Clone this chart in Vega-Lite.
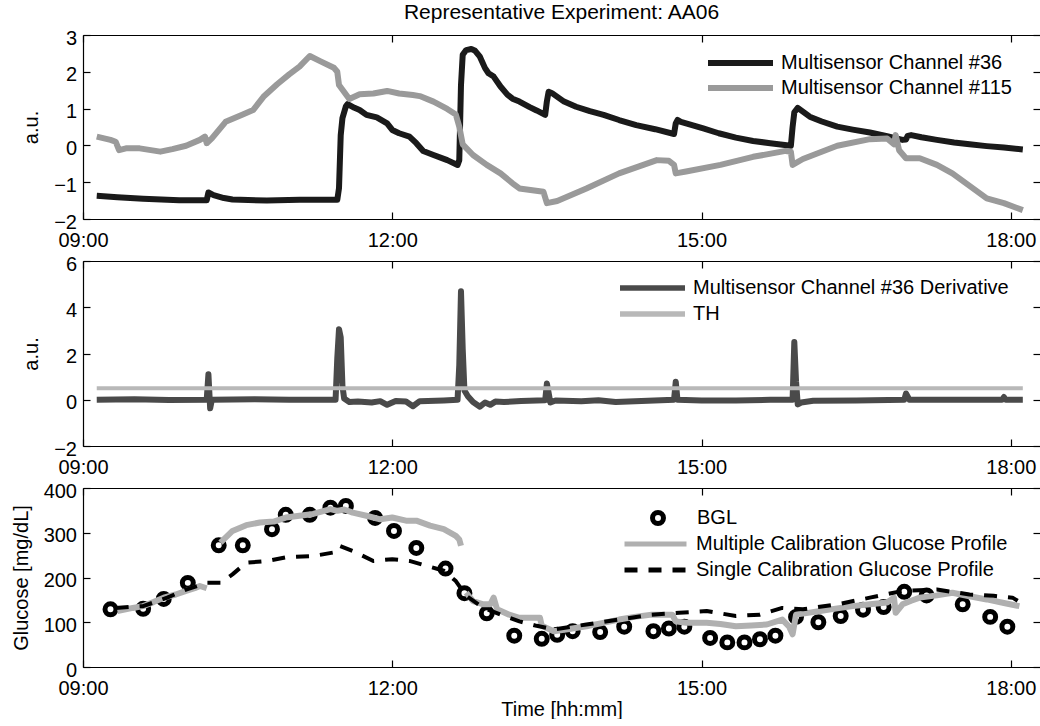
{
  "$schema": "https://vega.github.io/schema/vega-lite/v6.json",
  "background": "white",
  "padding": {"left": 11, "top": 2, "right": 0, "bottom": 0},
  "bounds": "flush",
  "spacing": 42,
  "config": {
    "font": "Liberation Sans",
    "view": {"stroke": null},
    "axis": {
      "labelFont": "Liberation Sans", "labelFontSize": 20, "labelColor": "black",
      "titleFont": "Liberation Sans", "titleFontSize": 20, "titleFontWeight": "normal", "titleColor": "black",
      "domainColor": "black", "domainWidth": 1.2, "tickColor": "black", "tickWidth": 1.2, "tickSize": -7,
      "grid": false, "labelFlush": false, "labelOverlap": false, "titlePadding": 12
    },
    "axisX": {"labelPadding": 18},
    "axisY": {"labelPadding": 13.5, "labelOffset": 3},
    "legend": {
      "title": null, "orient": "none", "padding": 0, "labelFont": "Liberation Sans", "labelFontSize": 20,
      "labelColor": "black", "labelLimit": 600, "symbolType": "stroke", "clipHeight": 20, "rowPadding": 6,
      "symbolFillColor": "transparent"
    },
    "line": {"strokeCap": "butt", "strokeJoin": "round"}
  },
  "resolve": {
    "scale": {"color": "independent", "shape": "independent", "strokeDash": "independent"},
    "legend": {"color": "independent", "shape": "independent", "strokeDash": "independent"}
  },
  "vconcat": [
    {
      "width": 957, "height": 184,
      "title": {"text": "Representative Experiment: AA06", "fontSize": 21, "font": "Liberation Sans", "fontWeight": "normal", "color": "black", "frame": "group", "anchor": "middle", "offset": 5},
      "layer": [
        {
          "data": {"format": {"parse": {"t": "date:'%H:%M'"}}, "values": [
            {"t":"09:08","v":-1.37},{"t":"09:20","v":-1.41},{"t":"09:35","v":-1.45},{"t":"09:56","v":-1.49},{"t":"10:12","v":-1.49},
            {"t":"10:13","v":-1.28},{"t":"10:16","v":-1.35},{"t":"10:22","v":-1.43},{"t":"10:27","v":-1.47},{"t":"10:47","v":-1.5},
            {"t":"11:06","v":-1.48},{"t":"11:28","v":-1.48},{"t":"11:29","v":-1.16},{"t":"11:30","v":0.28},{"t":"11:31","v":0.74},
            {"t":"11:33","v":1.06},{"t":"11:34","v":1.12},{"t":"11:38","v":1.02},{"t":"11:41","v":0.96},{"t":"11:45","v":0.83},
            {"t":"11:51","v":0.76},{"t":"11:57","v":0.6},{"t":"12:00","v":0.42},{"t":"12:04","v":0.33},{"t":"12:10","v":0.24},
            {"t":"12:14","v":0.06},{"t":"12:18","v":-0.15},{"t":"12:24","v":-0.26},{"t":"12:32","v":-0.4},{"t":"12:38","v":-0.53},
            {"t":"12:39","v":-0.4},{"t":"12:40","v":1.64},{"t":"12:41","v":2.46},{"t":"12:43","v":2.59},{"t":"12:46","v":2.62},
            {"t":"12:48","v":2.58},{"t":"12:51","v":2.41},{"t":"12:54","v":2.1},{"t":"12:56","v":1.96},{"t":"12:59","v":1.87},
            {"t":"13:03","v":1.6},{"t":"13:07","v":1.38},{"t":"13:10","v":1.27},{"t":"13:14","v":1.19},{"t":"13:20","v":1.04},
            {"t":"13:24","v":0.95},{"t":"13:29","v":0.83},{"t":"13:30","v":1.2},{"t":"13:31","v":1.46},{"t":"13:33","v":1.42},
            {"t":"13:40","v":1.19},{"t":"13:47","v":1.05},{"t":"13:55","v":0.93},{"t":"14:03","v":0.83},{"t":"14:12","v":0.69},
            {"t":"14:22","v":0.55},{"t":"14:33","v":0.44},{"t":"14:44","v":0.31},{"t":"14:45","v":0.6},{"t":"14:46","v":0.69},
            {"t":"14:48","v":0.64},{"t":"15:01","v":0.46},{"t":"15:10","v":0.33},{"t":"15:20","v":0.21},{"t":"15:30","v":0.12},
            {"t":"15:40","v":0.06},{"t":"15:52","v":-0.01},{"t":"15:53","v":0.5},{"t":"15:54","v":0.9},{"t":"15:56","v":1.02},
            {"t":"15:58","v":0.95},{"t":"16:03","v":0.78},{"t":"16:10","v":0.65},{"t":"16:19","v":0.51},{"t":"16:28","v":0.43},
            {"t":"16:38","v":0.35},{"t":"16:48","v":0.25},{"t":"16:57","v":0.15},{"t":"16:59","v":0.16},{"t":"17:00","v":0.26},
            {"t":"17:02","v":0.28},{"t":"17:08","v":0.22},{"t":"17:17","v":0.15},{"t":"17:27","v":0.08},{"t":"17:36","v":0.03},
            {"t":"17:46","v":-0.02},{"t":"17:56","v":-0.06},{"t":"18:07","v":-0.11}
          ]},
          "mark": {"type": "line", "strokeWidth": 6},
          "encoding": {
            "x": {"field": "t", "type": "temporal",
              "scale": {"domain": [{"year":1900,"month":1,"date":1,"hours":9,"minutes":0},{"year":1900,"month":1,"date":1,"hours":18,"minutes":17}], "nice": false},
              "axis": {"orient": "bottom", "title": null, "format": "%H:%M",
                "values": [{"year":1900,"month":1,"date":1,"hours":9},{"year":1900,"month":1,"date":1,"hours":12},{"year":1900,"month":1,"date":1,"hours":15},{"year":1900,"month":1,"date":1,"hours":18}]}},
            "y": {"field": "v", "type": "quantitative", "scale": {"domain": [-2, 3], "nice": false},
              "axis": {"orient": "left", "title": "a.u.", "values": [-2, -1, 0, 1, 2, 3]}},
            "color": {"datum": "Multisensor Channel #36", "type": "nominal",
              "scale": {"domain": ["Multisensor Channel #36", "Multisensor Channel #115"], "range": ["#1a1a1a", "#9a9a9a"]},
              "legend": {"legendX": 622, "legendY": 18, "symbolSize": 4225, "symbolStrokeWidth": 6, "labelOffset": 5, "rowPadding": 5}}
          }
        },
        {
          "data": {"format": {"parse": {"t": "date:'%H:%M'"}}, "values": [
            {"t":"09:08","v":0.24},{"t":"09:16","v":0.15},{"t":"09:19","v":0.1},{"t":"09:21","v":-0.13},{"t":"09:25","v":-0.08},
            {"t":"09:33","v":-0.08},{"t":"09:45","v":-0.17},{"t":"09:52","v":-0.1},{"t":"10:00","v":-0.01},{"t":"10:08","v":0.15},
            {"t":"10:11","v":0.24},{"t":"10:12","v":0.06},{"t":"10:15","v":0.19},{"t":"10:23","v":0.64},{"t":"10:33","v":0.84},
            {"t":"10:39","v":0.96},{"t":"10:45","v":1.32},{"t":"10:53","v":1.66},{"t":"11:00","v":1.93},{"t":"11:06","v":2.14},
            {"t":"11:12","v":2.43},{"t":"11:18","v":2.29},{"t":"11:26","v":2.11},{"t":"11:28","v":2.0},{"t":"11:29","v":1.64},
            {"t":"11:35","v":1.26},{"t":"11:41","v":1.39},{"t":"11:49","v":1.41},{"t":"11:57","v":1.48},{"t":"12:04","v":1.41},
            {"t":"12:12","v":1.37},{"t":"12:16","v":1.34},{"t":"12:24","v":1.19},{"t":"12:32","v":0.99},{"t":"12:37","v":0.84},
            {"t":"12:39","v":0.51},{"t":"12:41","v":0.03},{"t":"12:47","v":-0.26},{"t":"12:55","v":-0.53},{"t":"13:03","v":-0.76},
            {"t":"13:10","v":-1.03},{"t":"13:14","v":-1.17},{"t":"13:28","v":-1.26},{"t":"13:30","v":-1.57},{"t":"13:36","v":-1.51},
            {"t":"13:53","v":-1.17},{"t":"14:12","v":-0.76},{"t":"14:34","v":-0.4},{"t":"14:41","v":-0.42},{"t":"14:44","v":-0.53},
            {"t":"14:45","v":-0.76},{"t":"14:51","v":-0.71},{"t":"15:11","v":-0.53},{"t":"15:30","v":-0.31},{"t":"15:49","v":-0.15},
            {"t":"15:52","v":-0.17},{"t":"15:53","v":-0.53},{"t":"15:59","v":-0.37},{"t":"16:19","v":-0.01},{"t":"16:38","v":0.17},
            {"t":"16:48","v":0.19},{"t":"16:52","v":0.03},{"t":"16:53","v":0.28},{"t":"16:55","v":-0.13},{"t":"16:59","v":-0.35},
            {"t":"17:07","v":-0.35},{"t":"17:17","v":-0.53},{"t":"17:26","v":-0.76},{"t":"17:46","v":-1.44},{"t":"17:56","v":-1.57},
            {"t":"18:07","v":-1.76}
          ]},
          "mark": {"type": "line", "strokeWidth": 6},
          "encoding": {
            "x": {"field": "t", "type": "temporal",
              "axis": {"orient": "top", "title": null, "labels": false,
                "values": [{"year":1900,"month":1,"date":1,"hours":9},{"year":1900,"month":1,"date":1,"hours":12},{"year":1900,"month":1,"date":1,"hours":15},{"year":1900,"month":1,"date":1,"hours":18}]}},
            "y": {"field": "v", "type": "quantitative",
              "axis": {"orient": "right", "title": null, "labels": false, "domain": false, "values": [-2, -1, 0, 1, 2, 3]}},
            "color": {"datum": "Multisensor Channel #115", "type": "nominal"}
          }
        }
      ]
    },
    {
      "width": 957, "height": 185,
      "layer": [
        {
          "data": {"format": {"parse": {"t": "date:'%H:%M'"}}, "values": [
            {"t":"09:08","v":0},{"t":"09:30","v":0.02},{"t":"09:50","v":-0.01},{"t":"10:12","v":0},{"t":"10:13","v":1.1},
            {"t":"10:14","v":-0.37},{"t":"10:15","v":0},{"t":"10:40","v":0.02},{"t":"11:00","v":0},{"t":"11:27","v":0},
            {"t":"11:28","v":1.8},{"t":"11:29","v":3.05},{"t":"11:30","v":2.7},{"t":"11:31","v":0.6},{"t":"11:32","v":0.05},
            {"t":"11:35","v":-0.1},{"t":"11:40","v":-0.08},{"t":"11:48","v":-0.12},{"t":"11:53","v":-0.06},{"t":"11:57","v":-0.22},
            {"t":"12:02","v":-0.05},{"t":"12:08","v":-0.08},{"t":"12:12","v":-0.28},{"t":"12:16","v":-0.06},{"t":"12:30","v":-0.03},
            {"t":"12:38","v":0},{"t":"12:39","v":1.5},{"t":"12:40","v":4.69},{"t":"12:41","v":2.2},{"t":"12:42","v":0.4},
            {"t":"12:44","v":0.15},{"t":"12:47","v":-0.1},{"t":"12:51","v":-0.3},{"t":"12:54","v":-0.12},{"t":"12:57","v":-0.22},
            {"t":"13:00","v":-0.08},{"t":"13:05","v":-0.1},{"t":"13:15","v":-0.05},{"t":"13:29","v":-0.02},{"t":"13:30","v":0.7},
            {"t":"13:31","v":0.3},{"t":"13:32","v":-0.12},{"t":"13:35","v":-0.03},{"t":"13:50","v":-0.06},{"t":"14:00","v":-0.02},
            {"t":"14:10","v":-0.1},{"t":"14:25","v":-0.05},{"t":"14:44","v":0},{"t":"14:45","v":0.78},{"t":"14:46","v":0},
            {"t":"15:00","v":-0.03},{"t":"15:20","v":-0.03},{"t":"15:40","v":0},{"t":"15:53","v":0},{"t":"15:54","v":2.5},
            {"t":"15:55","v":0.8},{"t":"15:56","v":-0.2},{"t":"15:58","v":-0.12},{"t":"16:05","v":-0.04},{"t":"16:30","v":-0.03},
            {"t":"16:58","v":0},{"t":"16:59","v":0.27},{"t":"17:01","v":0},{"t":"17:30","v":0},{"t":"17:55","v":0},
            {"t":"17:56","v":0.12},{"t":"17:57","v":0},{"t":"18:07","v":0}
          ]},
          "mark": {"type": "line", "strokeWidth": 6},
          "encoding": {
            "x": {"field": "t", "type": "temporal",
              "scale": {"domain": [{"year":1900,"month":1,"date":1,"hours":9,"minutes":0},{"year":1900,"month":1,"date":1,"hours":18,"minutes":17}], "nice": false},
              "axis": {"orient": "bottom", "title": null, "format": "%H:%M",
                "values": [{"year":1900,"month":1,"date":1,"hours":9},{"year":1900,"month":1,"date":1,"hours":12},{"year":1900,"month":1,"date":1,"hours":15},{"year":1900,"month":1,"date":1,"hours":18}]}},
            "y": {"field": "v", "type": "quantitative", "scale": {"domain": [-2, 6], "nice": false},
              "axis": {"orient": "left", "title": "a.u.", "values": [-2, 0, 2, 4, 6]}},
            "color": {"datum": "Multisensor Channel #36 Derivative", "type": "nominal",
              "scale": {"domain": ["Multisensor Channel #36 Derivative", "TH"], "range": ["#4a4a4a", "#b8b8b8"]},
              "legend": {"legendX": 534, "legendY": 17, "symbolSize": 4225, "symbolStrokeWidth": 5.5, "labelOffset": 5}}
          }
        },
        {
          "data": {"format": {"parse": {"t": "date:'%H:%M'"}}, "values": [
            {"t":"09:08","v":0.5},{"t":"18:07","v":0.5}
          ]},
          "mark": {"type": "line", "strokeWidth": 4},
          "encoding": {
            "x": {"field": "t", "type": "temporal",
              "axis": {"orient": "top", "title": null, "labels": false,
                "values": [{"year":1900,"month":1,"date":1,"hours":9},{"year":1900,"month":1,"date":1,"hours":12},{"year":1900,"month":1,"date":1,"hours":15},{"year":1900,"month":1,"date":1,"hours":18}]}},
            "y": {"field": "v", "type": "quantitative",
              "axis": {"orient": "right", "title": null, "labels": false, "domain": false, "values": [-2, 0, 2, 4, 6]}},
            "color": {"datum": "TH", "type": "nominal"}
          }
        }
      ]
    },
    {
      "width": 957, "height": 179,
      "layer": [
        {
          "data": {"format": {"parse": {"t": "date:'%H:%M'"}}, "values": [
            {"t":"09:16","v":129},{"t":"09:35","v":130},{"t":"09:47","v":152},{"t":"10:01","v":188},{"t":"10:19","v":272},
            {"t":"10:33","v":272},{"t":"10:50","v":308},{"t":"10:58","v":340},{"t":"11:12","v":340},{"t":"11:24","v":356},
            {"t":"11:33","v":360},{"t":"11:50","v":333},{"t":"12:01","v":304},{"t":"12:14","v":266},{"t":"12:31","v":220},
            {"t":"12:42","v":165},{"t":"12:55","v":120},{"t":"13:11","v":70},{"t":"13:27","v":63},{"t":"13:36","v":72},
            {"t":"13:45","v":80},{"t":"14:01","v":78},{"t":"14:15","v":90},{"t":"14:32","v":80},{"t":"14:41","v":86},
            {"t":"14:50","v":90},{"t":"15:05","v":65},{"t":"15:15","v":55},{"t":"15:25","v":55},{"t":"15:34","v":62},
            {"t":"15:43","v":70},{"t":"15:55","v":112},{"t":"16:08","v":100},{"t":"16:21","v":114},{"t":"16:34","v":128},
            {"t":"16:46","v":134},{"t":"16:58","v":168},{"t":"17:11","v":160},{"t":"17:32","v":140},{"t":"17:48","v":112},
            {"t":"17:58","v":90}
          ]},
          "mark": {"type": "point", "filled": false, "color": "black", "size": 120, "strokeWidth": 5, "opacity": 1},
          "encoding": {
            "x": {"field": "t", "type": "temporal",
              "scale": {"domain": [{"year":1900,"month":1,"date":1,"hours":9,"minutes":0},{"year":1900,"month":1,"date":1,"hours":18,"minutes":17}], "nice": false},
              "axis": {"orient": "bottom", "title": "Time [hh:mm]", "format": "%H:%M", "titlePadding": 1,
                "values": [{"year":1900,"month":1,"date":1,"hours":9},{"year":1900,"month":1,"date":1,"hours":12},{"year":1900,"month":1,"date":1,"hours":15},{"year":1900,"month":1,"date":1,"hours":18}]}},
            "y": {"field": "v", "type": "quantitative", "scale": {"domain": [0, 400], "nice": false},
              "axis": {"orient": "left", "title": "Glucose [mg/dL]", "values": [0, 100, 200, 300, 400]}},
            "shape": {"datum": "BGL", "type": "nominal",
              "scale": {"domain": ["BGL"], "range": ["circle"]},
              "legend": {"legendX": 565, "legendY": 20, "symbolType": "circle", "symbolSize": 120, "symbolStrokeWidth": 5,
                "symbolStrokeColor": "black", "symbolFillColor": "transparent", "labelOffset": 29}}
          }
        },
        {
          "data": {"format": {"parse": {"t": "date:'%H:%M'"}}, "values": [
            {"t":"09:20","v":125,"seg":1},{"t":"09:29","v":132,"seg":1},{"t":"09:35","v":136,"seg":1},{"t":"09:41","v":145,"seg":1},
            {"t":"09:47","v":155,"seg":1},{"t":"09:54","v":162,"seg":1},{"t":"10:00","v":170,"seg":1},{"t":"10:05","v":176,"seg":1},
            {"t":"10:08","v":181,"seg":1},{"t":"10:12","v":176,"seg":1},
            {"t":"10:20","v":278,"seg":2},{"t":"10:27","v":304,"seg":2},{"t":"10:35","v":317,"seg":2},{"t":"10:43","v":323,"seg":2},
            {"t":"10:51","v":325,"seg":2},{"t":"10:58","v":334,"seg":2},{"t":"11:06","v":338,"seg":2},{"t":"11:14","v":342,"seg":2},
            {"t":"11:24","v":353,"seg":2},{"t":"11:28","v":349,"seg":2},{"t":"11:32","v":352,"seg":2},{"t":"11:37","v":345,"seg":2},
            {"t":"11:45","v":338,"seg":2},{"t":"11:53","v":330,"seg":2},{"t":"12:00","v":334,"seg":2},{"t":"12:08","v":327,"seg":2},
            {"t":"12:14","v":327,"seg":2},{"t":"12:22","v":316,"seg":2},{"t":"12:30","v":308,"seg":2},{"t":"12:37","v":293,"seg":2},
            {"t":"12:39","v":285,"seg":2},{"t":"12:40","v":271,"seg":2},
            {"t":"12:43","v":166,"seg":3},{"t":"12:47","v":147,"seg":3},{"t":"12:53","v":140,"seg":3},{"t":"12:57","v":140,"seg":3},
            {"t":"12:59","v":155,"seg":3},{"t":"13:01","v":129,"seg":3},{"t":"13:08","v":117,"seg":3},{"t":"13:14","v":110,"seg":3},
            {"t":"13:26","v":110,"seg":3},{"t":"13:27","v":92,"seg":3},{"t":"13:34","v":80,"seg":3},{"t":"13:43","v":85,"seg":3},
            {"t":"13:53","v":91,"seg":3},{"t":"14:02","v":98,"seg":3},{"t":"14:12","v":106,"seg":3},{"t":"14:21","v":112,"seg":3},
            {"t":"14:31","v":117,"seg":3},{"t":"14:43","v":117,"seg":3},{"t":"14:45","v":102,"seg":3},{"t":"14:51","v":99,"seg":3},
            {"t":"15:03","v":99,"seg":3},{"t":"15:11","v":96,"seg":3},{"t":"15:20","v":91,"seg":3},{"t":"15:29","v":93,"seg":3},
            {"t":"15:38","v":95,"seg":3},{"t":"15:47","v":106,"seg":3},{"t":"15:51","v":90,"seg":3},{"t":"15:53","v":73,"seg":3},
            {"t":"15:55","v":117,"seg":3},{"t":"16:02","v":121,"seg":3},{"t":"16:09","v":125,"seg":3},{"t":"16:19","v":131,"seg":3},
            {"t":"16:28","v":136,"seg":3},{"t":"16:38","v":140,"seg":3},{"t":"16:48","v":144,"seg":3},{"t":"16:52","v":155,"seg":3},
            {"t":"16:53","v":121,"seg":3},{"t":"16:57","v":140,"seg":3},{"t":"17:02","v":148,"seg":3},{"t":"17:07","v":155,"seg":3},
            {"t":"17:17","v":160,"seg":3},{"t":"17:26","v":166,"seg":3},{"t":"17:36","v":158,"seg":3},{"t":"17:46","v":151,"seg":3},
            {"t":"17:56","v":143,"seg":3},{"t":"18:05","v":136,"seg":3}
          ]},
          "mark": {"type": "line", "strokeWidth": 6},
          "encoding": {
            "x": {"field": "t", "type": "temporal",
              "axis": {"orient": "top", "title": null, "labels": false,
                "values": [{"year":1900,"month":1,"date":1,"hours":9},{"year":1900,"month":1,"date":1,"hours":12},{"year":1900,"month":1,"date":1,"hours":15},{"year":1900,"month":1,"date":1,"hours":18}]}},
            "y": {"field": "v", "type": "quantitative",
              "axis": {"orient": "right", "title": null, "labels": false, "domain": false, "values": [0, 100, 200, 300, 400]}},
            "detail": {"field": "seg", "type": "nominal"},
            "color": {"datum": "Multiple Calibration Glucose Profile", "type": "nominal",
              "scale": {"domain": ["Multiple Calibration Glucose Profile", "Single Calibration Glucose Profile"], "range": ["#b0b0b0", "black"]},
              "legend": {"legendX": 539, "legendY": 46, "symbolSize": 3844, "symbolStrokeWidth": 5, "labelOffset": 7}}
          }
        },
        {
          "data": {"format": {"parse": {"t": "date:'%H:%M'"}}, "values": [
            {"t":"09:19","v":132},{"t":"09:35","v":136},{"t":"09:49","v":155},{"t":"10:00","v":173},{"t":"10:12","v":188},
            {"t":"10:20","v":188},{"t":"10:27","v":207},{"t":"10:35","v":233},{"t":"10:47","v":237},{"t":"10:58","v":245},
            {"t":"11:14","v":248},{"t":"11:26","v":256},{"t":"11:29","v":271},{"t":"11:37","v":259},{"t":"11:49","v":237},
            {"t":"12:00","v":241},{"t":"12:10","v":237},{"t":"12:20","v":226},{"t":"12:30","v":215},{"t":"12:37","v":192},
            {"t":"12:43","v":159},{"t":"12:53","v":132},{"t":"13:03","v":117},{"t":"13:14","v":102},{"t":"13:24","v":92},
            {"t":"13:34","v":84},{"t":"13:53","v":95},{"t":"14:12","v":106},{"t":"14:31","v":117},{"t":"14:47","v":121},
            {"t":"15:03","v":125},{"t":"15:20","v":114},{"t":"15:34","v":117},{"t":"15:47","v":132},{"t":"15:59","v":129},
            {"t":"16:19","v":140},{"t":"16:38","v":155},{"t":"16:57","v":170},{"t":"17:17","v":173},{"t":"17:36","v":162},
            {"t":"17:50","v":159},{"t":"18:01","v":155},{"t":"18:04","v":148}
          ]},
          "mark": {"type": "line", "strokeWidth": 4},
          "encoding": {
            "x": {"field": "t", "type": "temporal", "axis": null},
            "y": {"field": "v", "type": "quantitative", "axis": null},
            "color": {"datum": "Single Calibration Glucose Profile", "type": "nominal"},
            "strokeDash": {"datum": "Single Calibration Glucose Profile", "type": "nominal",
              "scale": {"domain": ["Multiple Calibration Glucose Profile", "Single Calibration Glucose Profile"], "range": [[1, 0], [13, 11]]},
              "legend": {"legendX": 539, "legendY": 46, "symbolSize": 3844, "symbolStrokeWidth": 5, "labelOffset": 7}}
          }
        }
      ]
    }
  ]
}
